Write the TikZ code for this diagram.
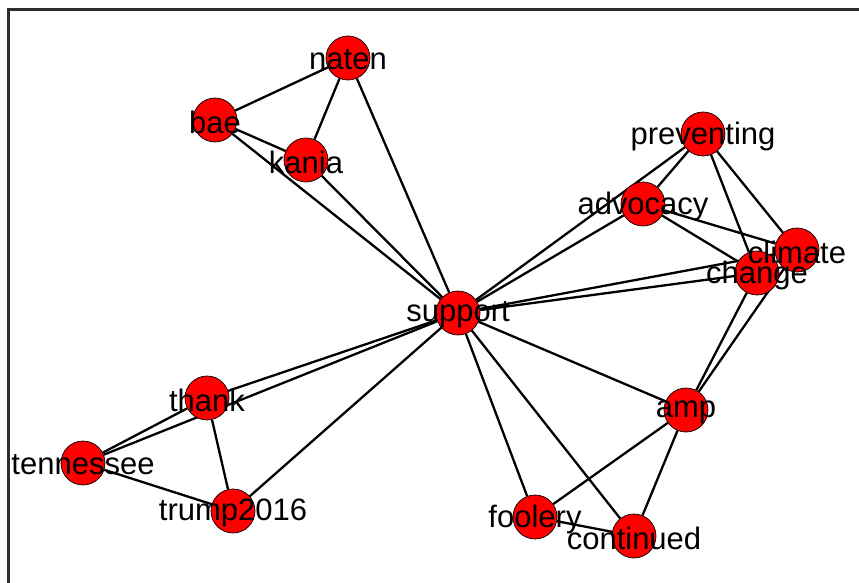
\documentclass[tikz,border=0pt]{standalone}
\usepackage{fontspec}
\setmainfont{Liberation Sans}
\usetikzlibrary{backgrounds}
\definecolor{framegray}{HTML}{2E2E2E}
\tikzset{
  vtx/.style={circle, fill=red, draw=black, line width=0.7pt, minimum size=44pt, inner sep=0pt},
  lbl/.style={inner sep=0pt, font=\fontsize{31}{34}\selectfont, text=black, yshift=-2pt},
  edge/.style={line width=2.3pt, black}
}
\begin{document}
\begin{tikzpicture}[x=1pt,y=-1pt]
\useasboundingbox (0,0) rectangle (859,583);
\begin{scope}
\clip (0,0) rectangle (859,583);
\draw[framegray, line width=3pt] (8.5,10) rectangle (900,620);
\end{scope}
% vertices
\node[vtx] (naten) at (348,58) {};
\node[vtx] (bae) at (215,120) {};
\node[vtx] (kania) at (306,160) {};
\node[vtx] (preventing) at (703,134) {};
\node[vtx] (advocacy) at (643,204) {};
\node[vtx] (climate) at (797,250) {};
\node[vtx] (change) at (757,273) {};
\node[vtx] (support) at (458,313) {};
\node[vtx] (thank) at (207,398) {};
\node[vtx] (tennessee) at (83,463) {};
\node[vtx] (trump) at (233,511) {};
\node[vtx] (amp) at (686,410) {};
\node[vtx] (foolery) at (535,517) {};
\node[vtx] (continued) at (634,536) {};
% edges
\begin{scope}[on background layer]
\draw[edge] (bae) -- (naten);
\draw[edge] (bae) -- (kania);
\draw[edge] (bae) -- (support);
\draw[edge] (naten) -- (kania);
\draw[edge] (naten) -- (support);
\draw[edge] (kania) -- (support);
\draw[edge] (preventing) -- (advocacy);
\draw[edge] (preventing) -- (support);
\draw[edge] (preventing) -- (change);
\draw[edge] (preventing) -- (climate);
\draw[edge] (advocacy) -- (support);
\draw[edge] (advocacy) -- (climate);
\draw[edge] (advocacy) -- (change);
\draw[edge] (climate) -- (support);
\draw[edge] (change) -- (support);
\draw[edge] (climate) -- (change);
\draw[edge] (climate) -- (amp);
\draw[edge] (change) -- (amp);
\draw[edge] (support) -- (thank);
\draw[edge] (support) -- (tennessee);
\draw[edge] (support) -- (trump);
\draw[edge] (thank) -- (tennessee);
\draw[edge] (thank) -- (trump);
\draw[edge] (tennessee) -- (trump);
\draw[edge] (support) -- (amp);
\draw[edge] (support) -- (foolery);
\draw[edge] (support) -- (continued);
\draw[edge] (amp) -- (foolery);
\draw[edge] (amp) -- (continued);
\draw[edge] (foolery) -- (continued);
\end{scope}
% labels
\node[lbl] (naten-t) at (naten) {naten};
\node[lbl] (bae-t) at (bae) {bae};
\node[lbl] (kania-t) at (kania) {kania};
\node[lbl] (preventing-t) at (preventing) {preventing};
\node[lbl] (advocacy-t) at (advocacy) {advocacy};
\node[lbl] (climate-t) at (climate) {climate};
\node[lbl] (change-t) at (change) {change};
\node[lbl] (support-t) at (support) {support};
\node[lbl] (thank-t) at (thank) {thank};
\node[lbl] (tennessee-t) at (tennessee) {tennessee};
\node[lbl] (trump-t) at (trump) {trump2016};
\node[lbl] (amp-t) at (amp) {amp};
\node[lbl] (foolery-t) at (foolery) {foolery};
\node[lbl] (continued-t) at (continued) {continued};
\end{tikzpicture}
\end{document}
